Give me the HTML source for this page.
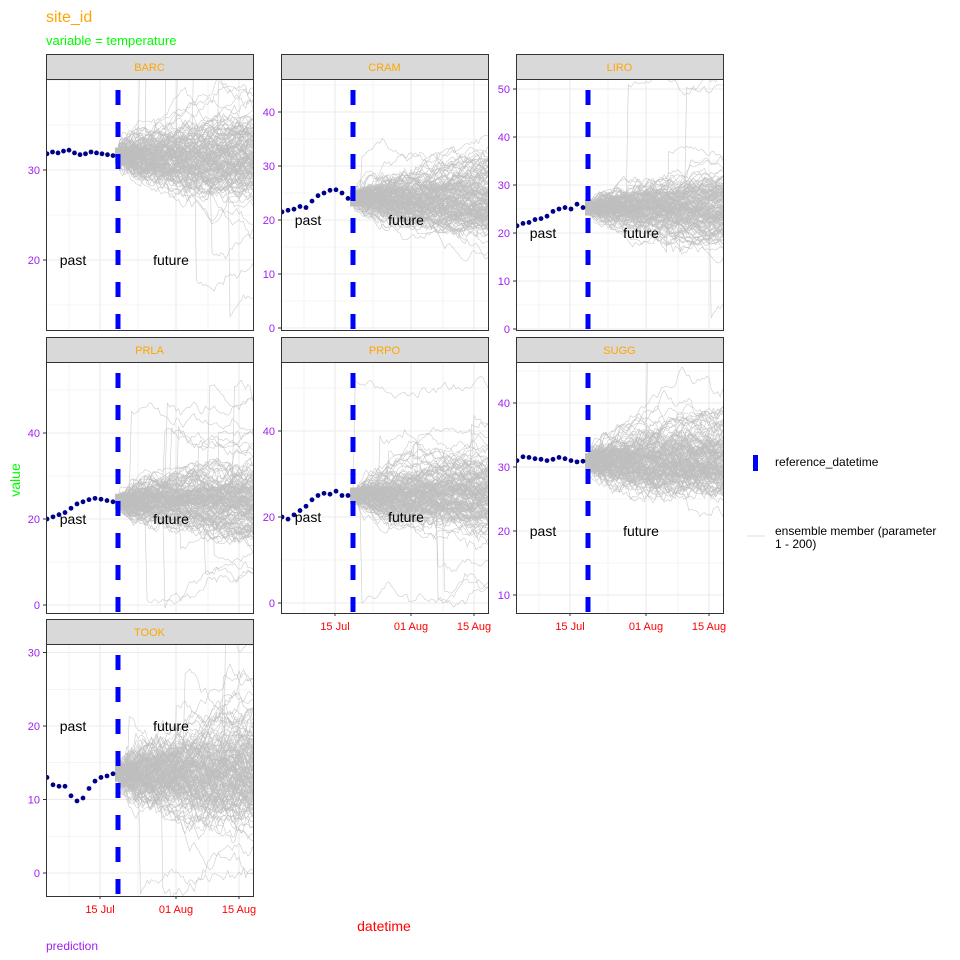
<!DOCTYPE html>
<html><head><meta charset="utf-8"><style>
html,body{margin:0;padding:0;background:#fff;overflow:hidden;width:960px;height:960px;}
svg{display:block;font-family:"Liberation Sans",Arial,sans-serif;}
</style></head><body>
<svg id="s" width="960" height="960" xmlns="http://www.w3.org/2000/svg">
<rect width="960" height="960" fill="#fff"/>
<text x="46" y="22" font-size="16" fill="#ffa500">site_id</text>
<text x="46" y="45" font-size="13" fill="#00ff00">variable = temperature</text>
<text x="20" y="480" font-size="14" fill="#00ff00" text-anchor="middle" transform="rotate(-90 20 480)">value</text>
<text x="384" y="931" font-size="14" fill="#ff0000" text-anchor="middle">datetime</text>
<text x="46" y="950" font-size="12" fill="#a020f0">prediction</text>
<rect x="753" y="455" width="5" height="16" fill="#0000ff"/>
<text x="775" y="466" font-size="12" fill="#000">reference_datetime</text>
<line x1="747" y1="536" x2="765" y2="536" stroke="#ddd" stroke-width="1"/>
<text x="775" y="535" font-size="12" fill="#000">ensemble member (parameter</text>
<text x="775" y="548" font-size="12" fill="#000">1 - 200)</text>
<g id="g"></g>
</svg>
<script>
var NS="http://www.w3.org/2000/svg";
var g=document.getElementById('g');
var seed=12345;function rnd(){seed=(seed*1103515245+12345)%2147483648;return seed/2147483648;}
function gauss(){var u=rnd()||1e-9,v=rnd();return Math.sqrt(-2*Math.log(u))*Math.cos(2*Math.PI*v);}
function el(t,a,p){var e=document.createElementNS(NS,t);for(var k in a)e.setAttribute(k,a[k]);(p||g).appendChild(e);return e;}
function txt(x,y,s,a,p){var e=el('text',a,p);e.setAttribute('x',x);e.setAttribute('y',y);e.textContent=s;return e;}
var panels=[
 {n:'BARC',L:46,T:79,B:330,z:170,s:9,zv:30,maj:[20,30],ticks:[20,30],past:[31.8,32,31.9,32.1,32.2,31.9,31.7,31.8,32,31.9,31.8,31.7,31.6],sd:0.6,jp:0.03,lab:20,xl:false},
 {n:'CRAM',L:281,T:79,B:330,z:328,s:5.4,zv:0,maj:[0,10,20,30,40],ticks:[0,10,20,30,40],past:[21.5,21.8,22,22.5,22.3,23.5,24.5,25,25.5,25.6,25,24],sd:0.9,jp:0.02,lab:20,xl:false},
 {n:'LIRO',L:516,T:79,B:330,z:329,s:4.8,zv:0,maj:[0,10,20,30,40,50],ticks:[0,10,20,30,40,50],past:[21.5,22,22.2,22.8,23,23.5,24.5,25,25.3,25,26,25.3],sd:0.9,jp:0.05,lab:20,xl:false},
 {n:'PRLA',L:46,T:362,B:613,z:605,s:4.3,zv:0,maj:[0,20,40],ticks:[0,20,40],past:[20,20.5,21,21.5,22.5,23.5,24,24.5,24.8,24.6,24.3,24],sd:1.1,jp:0.07,lab:20,xl:false},
 {n:'PRPO',L:281,T:362,B:613,z:603,s:4.3,zv:0,maj:[0,20,40],ticks:[0,20,40],past:[20,19.5,20.5,21.5,22.5,24,25,25.5,25.3,26,25,25],sd:1.1,jp:0.05,lab:20,xl:true},
 {n:'SUGG',L:516,T:362,B:613,z:595,s:6.4,zv:10,maj:[10,20,30,40],ticks:[10,20,30,40],past:[31,31.6,31.5,31.3,31.2,31,31.2,31.5,31.3,31,30.8,30.9],sd:0.9,jp:0.01,lab:20,xl:true},
 {n:'TOOK',L:46,T:644,B:896,z:873,s:7.35,zv:0,maj:[0,10,20,30],ticks:[0,10,20,30],past:[13,12,11.8,11.8,10.5,9.8,10.2,11.5,12.5,13,13.2,13.5],sd:1.0,jp:0.03,lab:20,xl:true}
];
var W=207,dpx=4.48;
panels.forEach(function(p,i){
 var zv=p.zv||0;
 function Y(v){return p.z-(v-zv)*p.s;}
 var L=p.L,R=L+W,T=p.T,B=p.B;
 el('rect',{x:L+0.5,y:T-25+0.5,width:W,height:25,fill:'#d9d9d9',stroke:'#333','stroke-width':1});
 txt(L+W/2,T-8,p.n,{'font-size':11,fill:'#ffa500','text-anchor':'middle'});
 el('rect',{x:L+0.5,y:T+0.5,width:W,height:B-T,fill:'#fff'});
 var cid='c'+i;var cp=el('clipPath',{id:cid});el('rect',{x:L,y:T,width:W,height:B-T},cp);
 var gg=el('g',{'clip-path':'url(#'+cid+')'});
 var step=p.maj[1]-p.maj[0];
 for(var m=-4;m<=2*p.maj.length+4;m++){
   var v=p.maj[0]+m*step/2;var y=Y(v);var major=(m%2===0);
   el('line',{x1:L,x2:R,y1:y,y2:y,stroke:'#ebebeb','stroke-width':major?1.1:0.6},gg);}
 [L+54,L+130,L+193].forEach(function(x){el('line',{x1:x,x2:x,y1:T,y2:B,stroke:'#ebebeb','stroke-width':1.1},gg);});
 [L+23,L+92,L+162].forEach(function(x){el('line',{x1:x,x2:x,y1:T,y2:B,stroke:'#ebebeb','stroke-width':0.6},gg);});
 var x0=L+72,last=p.past[p.past.length-1];
 for(var k=0;k<150;k++){
   var v=last+gauss()*0.5,d='M'+x0+' '+Y(v).toFixed(1);
   var jumpAt=rnd()<p.jp*1.5?Math.floor(rnd()*56):-1;var jv=(rnd()<0.6?1:-1)*(8+rnd()*18);
   for(var t=1;t<=62;t++){
     v+=gauss()*p.sd*0.6+(last-v)*0.004;
     if(t==jumpAt)v+=jv;
     d+='L'+(x0+t*dpx/2).toFixed(1)+' '+Y(v).toFixed(1);}
   el('path',{d:d,fill:'none',stroke:'#bebebe','stroke-width':0.6,'stroke-opacity':0.8},gg);}
 el('rect',{x:x0-3,y:Y(last)-8,width:7,height:16,fill:'#bebebe'},gg);
 var n=p.past.length;
 p.past.forEach(function(v,j){el('circle',{cx:L+1+j*(66/(n-1)),cy:Y(v),r:2.4,fill:'#00008b'},gg);});
 el('line',{x1:x0,x2:x0,y1:T+11,y2:B,stroke:'#0000ff','stroke-width':5,'stroke-dasharray':'15 17'},gg);
 txt(L+27,Y(p.lab)+5,'past',{'font-size':14,fill:'#000','text-anchor':'middle'},gg);
 txt(L+125,Y(p.lab)+5,'future',{'font-size':14,fill:'#000','text-anchor':'middle'},gg);
 el('rect',{x:L+0.5,y:T+0.5,width:W,height:B-T,fill:'none',stroke:'#333','stroke-width':1});
 p.ticks.forEach(function(v){var y=Y(v);if(y<T||y>B)return;
   el('line',{x1:L-3,x2:L,y1:y,y2:y,stroke:'#333'});
   txt(L-6,y+4,String(v),{'font-size':11,fill:'#a020f0','text-anchor':'end'});});
 if(p.xl){[[54,'15 Jul'],[130,'01 Aug'],[193,'15 Aug']].forEach(function(a){
   el('line',{x1:L+a[0],x2:L+a[0],y1:B,y2:B+3,stroke:'#333'});
   txt(L+a[0],B+17,a[1],{'font-size':11,fill:'#ff0000','text-anchor':'middle'});});}
});
</script>
</body></html>
